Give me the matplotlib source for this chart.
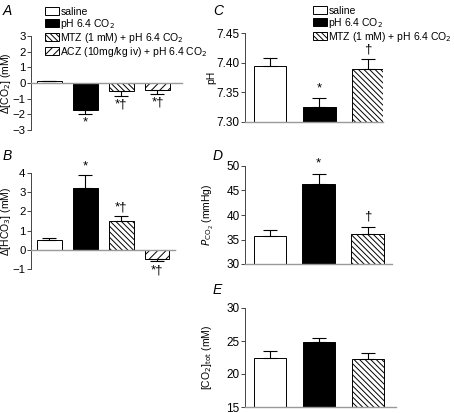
import numpy as np
import matplotlib
matplotlib.use("Agg")
import matplotlib.pyplot as plt
from matplotlib.patches import Patch

plt.rcParams['font.family'] = ['Liberation Sans', 'DejaVu Sans']
plt.rcParams['font.size'] = 8
plt.rcParams['hatch.linewidth'] = 0.7

# panel A: change in CO2
a_groups = ["saline", "pH 6.4 CO$_2$", "MTZ (1 mM) + pH 6.4 CO$_2$", "ACZ (10mg/kg iv) + pH 6.4 CO$_2$"]
a_vals = [0.1, -1.7, -0.5, -0.45]
a_err = [0.03, 0.3, 0.35, 0.25]
a_marks = ["", "*", "*\u2020", "*\u2020"]

# panel B: change in HCO3
b_vals = [0.5, 3.2, 1.5, -0.5]
b_err = [0.1, 0.7, 0.27, 0.1]
b_marks = ["", "*", "*\u2020", "*\u2020"]

# panel C: pH
c_vals = [7.395, 7.325, 7.39]
c_err = [0.013, 0.015, 0.016]
c_marks = ["", "*", "\u2020"]

# panel D: PCO2
d_vals = [35.8, 46.3, 36.2]
d_err = [1.2, 2.1, 1.4]
d_marks = ["", "*", "\u2020"]

# panel E: total CO2
e_vals = [22.5, 24.9, 22.2]
e_err = [1.0, 0.6, 1.0]

faces = ["white", "black", "white", "white"]
hatches = ["", "", "\\\\\\\\\\\\", "////"]

W, H = 454, 413
fig = plt.figure(figsize=(W / 100, H / 100), dpi=100)


def px_axes(x0, y0, x1, y1):
    ax = fig.add_axes([x0 / W, 1 - y1 / H, (x1 - x0) / W, (y1 - y0) / H])
    ax._pxw = x1 - x0
    return ax


def draw_bars(ax, vals, errs, width):
    x = np.arange(len(vals))
    for i, (v, e) in enumerate(zip(vals, errs)):
        ax.bar(x[i], v, width, color=faces[i], edgecolor="black", hatch=hatches[i],
               linewidth=0.7, zorder=2)
        up = v >= 0
        ax.errorbar(x[i], v, yerr=[[0 if up else e], [e if up else 0]],
                    fmt="none", ecolor="black", elinewidth=0.8, capsize=5,
                    capthick=0.8, zorder=3)
    return x


def style(ax, ylabel, label_off, zero_spine=False, tsize=8.5):
    ax.spines['top'].set_visible(False)
    ax.spines['right'].set_visible(False)
    ax.spines['left'].set_linewidth(0.7)
    ax.spines['left'].set_color("#444444")
    ax.spines['bottom'].set_color("#999999")
    ax.spines['bottom'].set_linewidth(1.0)
    if zero_spine:
        ax.spines['bottom'].set_position(('data', 0))
    ax.set_xticks([])
    ax.tick_params(axis='y', length=3, width=0.7, pad=1, labelsize=tsize, color="#444444")
    ax.set_ylabel(ylabel, fontsize=7.5)
    ax.yaxis.set_label_coords(-label_off / ax._pxw, 0.5)


def mark(ax, xi, y, m, above):
    ax.text(xi, y, m, ha="center", va="bottom" if above else "top", fontsize=9.5)


# A
axA = px_axes(31, 36, 182, 130)
x = draw_bars(axA, a_vals, a_err, 0.69)
axA.set_xlim(-0.51, 3.68)
axA.set_ylim(-3, 3)
axA.set_yticks(range(-3, 4))
style(axA, "\u0394[CO$_2$] (mM)", 18, True, 8.2)
for i, m in enumerate(a_marks):
    if m:
        mark(axA, x[i], a_vals[i] - a_err[i] - 0.15, m, False)

# B
axB = px_axes(31, 173, 175, 269)
x = draw_bars(axB, b_vals, b_err, 0.69)
axB.set_xlim(-0.51, 3.5)
axB.set_ylim(-1, 4)
axB.set_yticks(range(-1, 5))
style(axB, "\u0394[HCO$_3$] (mM)", 18, True, 8.2)
for i, m in enumerate(b_marks):
    if not m:
        continue
    if b_vals[i] >= 0:
        mark(axB, x[i], b_vals[i] + b_err[i] + 0.12, m, True)
    else:
        mark(axB, x[i], b_vals[i] - b_err[i] - 0.15, m, False)

# C
axC = px_axes(245, 33, 383, 122)
x = draw_bars(axC, c_vals, c_err, 0.67)
axC.set_xlim(-0.51, 2.3)
axC.set_ylim(7.30, 7.45)
axC.set_yticks([7.30, 7.35, 7.40, 7.45])
axC.set_yticklabels(["7.30", "7.35", "7.40", "7.45"])
style(axC, "pH", 29)
for i, m in enumerate(c_marks):
    if m:
        mark(axC, x[i], c_vals[i] + c_err[i] + 0.006, m, True)

# D
axD = px_axes(245, 166, 392, 264)
x = draw_bars(axD, d_vals, d_err, 0.67)
axD.set_xlim(-0.51, 2.5)
axD.set_ylim(30, 50)
axD.set_yticks(range(30, 51, 5))
style(axD, "$P_{\\mathrm{CO_2}}$ (mmHg)", 29)
for i, m in enumerate(d_marks):
    if m:
        mark(axD, x[i], d_vals[i] + d_err[i] + 0.8, m, True)

# E
axE = px_axes(245, 308, 396, 407)
x = draw_bars(axE, e_vals, e_err, 0.67)
axE.set_xlim(-0.51, 2.57)
axE.set_ylim(15, 30)
axE.set_yticks(range(15, 31, 5))
style(axE, "[CO$_2$]$_{\\mathrm{tot}}$ (mM)", 31)

# legends
handles = [Patch(facecolor=faces[i], edgecolor="black", hatch=hatches[i], linewidth=0.7)
           for i in range(4)]
leg_kw = dict(loc="upper left", frameon=False, fontsize=7.5, handlelength=1.35,
              handleheight=0.8, handletextpad=0.12, labelspacing=0.0,
              borderpad=0, borderaxespad=0)
fig.legend(handles, a_groups, bbox_to_anchor=(45 / W, 1 - 7 / H), **leg_kw)
fig.legend(handles[:3], a_groups[:3], bbox_to_anchor=(313 / W, 1 - 6 / H), **leg_kw)

# panel letters
for lbl, (px, py) in {"A": (3, 15), "B": (3, 160), "C": (213, 15), "D": (213, 160),
                      "E": (213, 294)}.items():
    fig.text(px / W, 1 - py / H, lbl, fontsize=10, style="italic")

fig.savefig("out.png", dpi=100)
